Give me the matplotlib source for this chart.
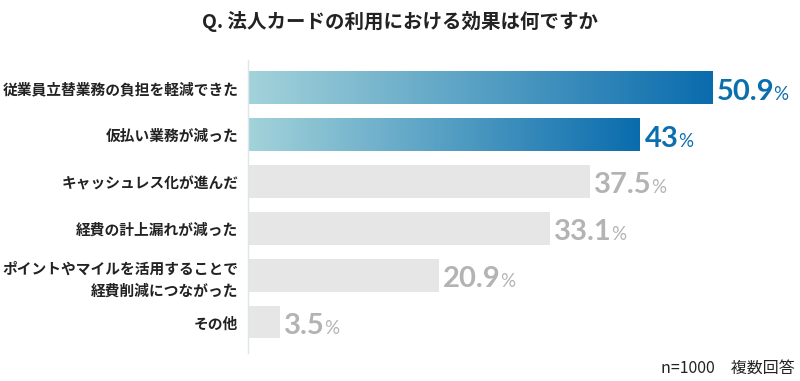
import numpy as np
import matplotlib.pyplot as plt
from matplotlib.colors import LinearSegmentedColormap

# データ
labels = [
    '従業員立替業務の負担を軽減できた',
    '仮払い業務が減った',
    'キャッシュレス化が進んだ',
    '経費の計上漏れが減った',
    'ポイントやマイルを活用することで\n経費削減につながった',
    'その他',
]
values = [50.9, 43, 37.5, 33.1, 20.9, 3.5]
value_text = ['50.9', '43', '37.5', '33.1', '20.9', '3.5']
highlight = [True, True, False, False, False, False]

title = 'Q. 法人カードの利用における効果は何ですか'
note = 'n=1000　複数回答'

jp = ['Noto Sans CJK JP', 'DejaVu Sans']
blue = '#0b6fae'
grey_bar = '#e6e6e6'
grey_txt = '#b3b3b3'
cmap = LinearSegmentedColormap.from_list('grad', ['#a3d3da', '#0a6cad'])

fig = plt.figure(figsize=(8, 3.81), dpi=100)
ax = fig.add_axes([248 / 800, 28 / 381, 552 / 800, 293 / 381])

y = np.arange(len(values))
h = 0.7

for yi, v, hl in zip(y, values, highlight):
    if hl:
        grad = np.linspace(0, 1, 256).reshape(1, -1)
        ax.imshow(grad, cmap=cmap, aspect='auto', interpolation='bilinear',
                  extent=[0, v, yi + h / 2, yi - h / 2], zorder=2)
    else:
        ax.barh(yi, v, height=h, color=grey_bar, zorder=2)

ax.set_xlim(0, 552 / 9.116)
ax.set_ylim(5.66, -0.6)

# 数値ラベル
for yi, v, t, hl in zip(y, values, value_text, highlight):
    c = blue if hl else grey_txt
    num = ax.text(v + 0.5, yi + 0.25, t, fontsize=21, fontweight='bold',
                  family='Lato', color=c, va='baseline', ha='left')
    ax.annotate('%', xy=(1, yi + 0.25), xycoords=(num, 'data'),
                xytext=(-0.5, 0), textcoords='offset points',
                fontsize=13.5, family='Lato', color=c, va='baseline', ha='left')

ax.set_yticks(y)
ax.set_yticklabels(labels, family=jp, fontsize=10.6, fontweight='bold',
                   color='#222222', linespacing=1.45)
ax.tick_params(axis='y', length=0, pad=7)
ax.set_xticks([])

for s in ['top', 'right', 'bottom']:
    ax.spines[s].set_visible(False)
ax.spines['left'].set_color('#dde7ea')
ax.spines['left'].set_linewidth(1)
ax.patch.set_alpha(0)

fig.text(0.5, 1 - 22 / 381, title, family=jp, fontsize=14, fontweight='bold',
         color='#222222', ha='center', va='center')
fig.text(795 / 800, 1 - 368 / 381, note, family=jp, fontsize=11.5,
         color='#222222', ha='right', va='center')

fig.savefig('out.png', dpi=100, facecolor='white')
